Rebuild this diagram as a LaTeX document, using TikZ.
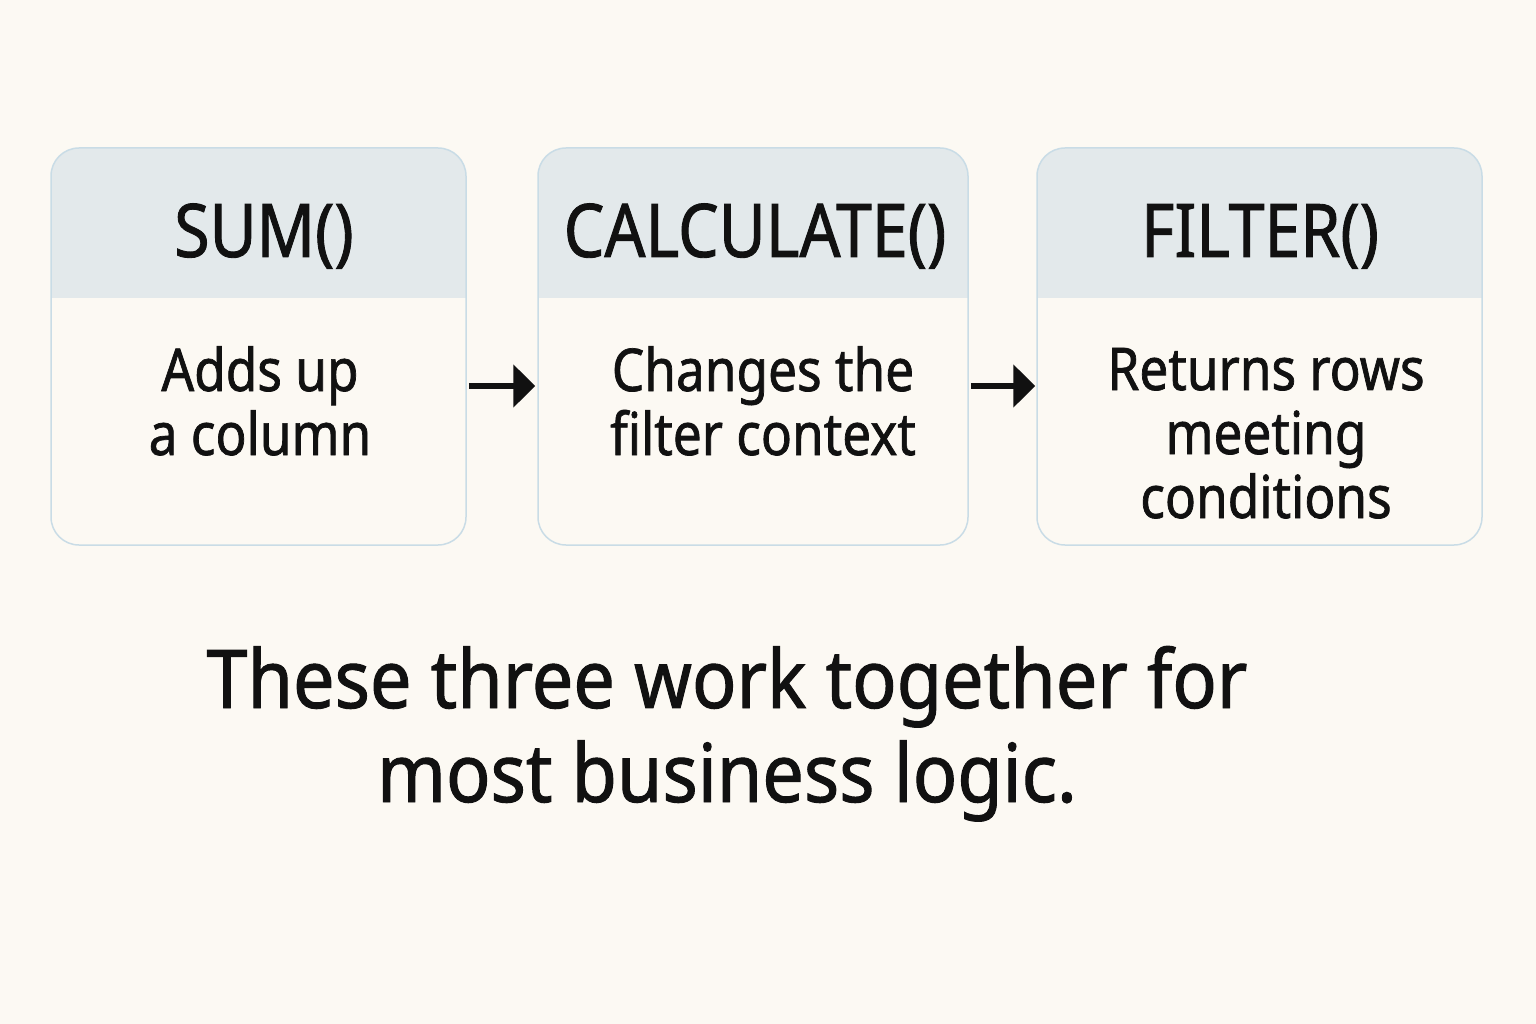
\documentclass[tikz,border=0pt]{standalone}
\usepackage{fontspec}
\setmainfont{Noto Sans}[FakeStretch=0.87, FakeBold=1.2]
\newfontfamily\titlefont{Noto Sans}[FakeStretch=0.91, FakeBold=1.2]
\usetikzlibrary{arrows.meta}
\definecolor{bgc}{HTML}{FCF9F3}
\definecolor{hdr}{HTML}{E3E9EB}
\definecolor{brd}{HTML}{C9DCE6}
\definecolor{ink}{HTML}{111111}
\tikzset{
  card/.style={draw=brd, line width=1.5pt, fill=bgc, rounded corners=28pt, minimum height=397pt, inner sep=0pt,
    path picture={\fill[hdr, sharp corners] (path picture bounding box.north west) rectangle ([yshift=-150pt]path picture bounding box.north east);}},
  htext/.style={text=ink, font=\fontsize{74}{80}\selectfont, anchor=base, inner sep=0pt},
  btext/.style={text=ink, font=\fontsize{59}{64}\selectfont, align=center, anchor=base, inner sep=0pt},
  flowarrow/.style={draw=ink, line width=6pt, -{Triangle[length=22pt,width=42pt]}},
}
\begin{document}
\begin{tikzpicture}[x=1pt,y=-1pt]
\useasboundingbox[fill=bgc] (0,0) rectangle (1536,1024);
\node[card, minimum width=415pt] (b1) at (258.5,346.5) {};
\node[card, minimum width=430pt] (b2) at (753,346.5) {};
\node[card, minimum width=445pt] (b3) at (1259.5,346.5) {};
\node[htext] (h1) at (264,257) {SUM()};
\node[htext] (h2) at (755,257) {CALCULATE()};
\node[htext] (h3) at (1260,257) {FILTER()};
\node[btext] (t1) at (260,455) {Adds up\\a column};
\node[btext] (t2) at (763,455) {Changes the\\filter context};
\node[btext] (t3) at (1266,518) {Returns rows\\meeting\\conditions};
\draw[flowarrow] ([xshift=2pt,yshift=-39.5pt]b1.east) -- ([xshift=-2pt,yshift=-39.5pt]b2.west);
\draw[flowarrow] ([xshift=2pt,yshift=-39.5pt]b2.east) -- ([xshift=-1pt,yshift=-39.5pt]b3.west);
\node[text=ink, font=\titlefont\fontsize{81}{94}\selectfont, align=center, anchor=base, inner sep=0pt] (title) at (727,802) {These three work together for\\most business logic.};
\end{tikzpicture}
\end{document}
